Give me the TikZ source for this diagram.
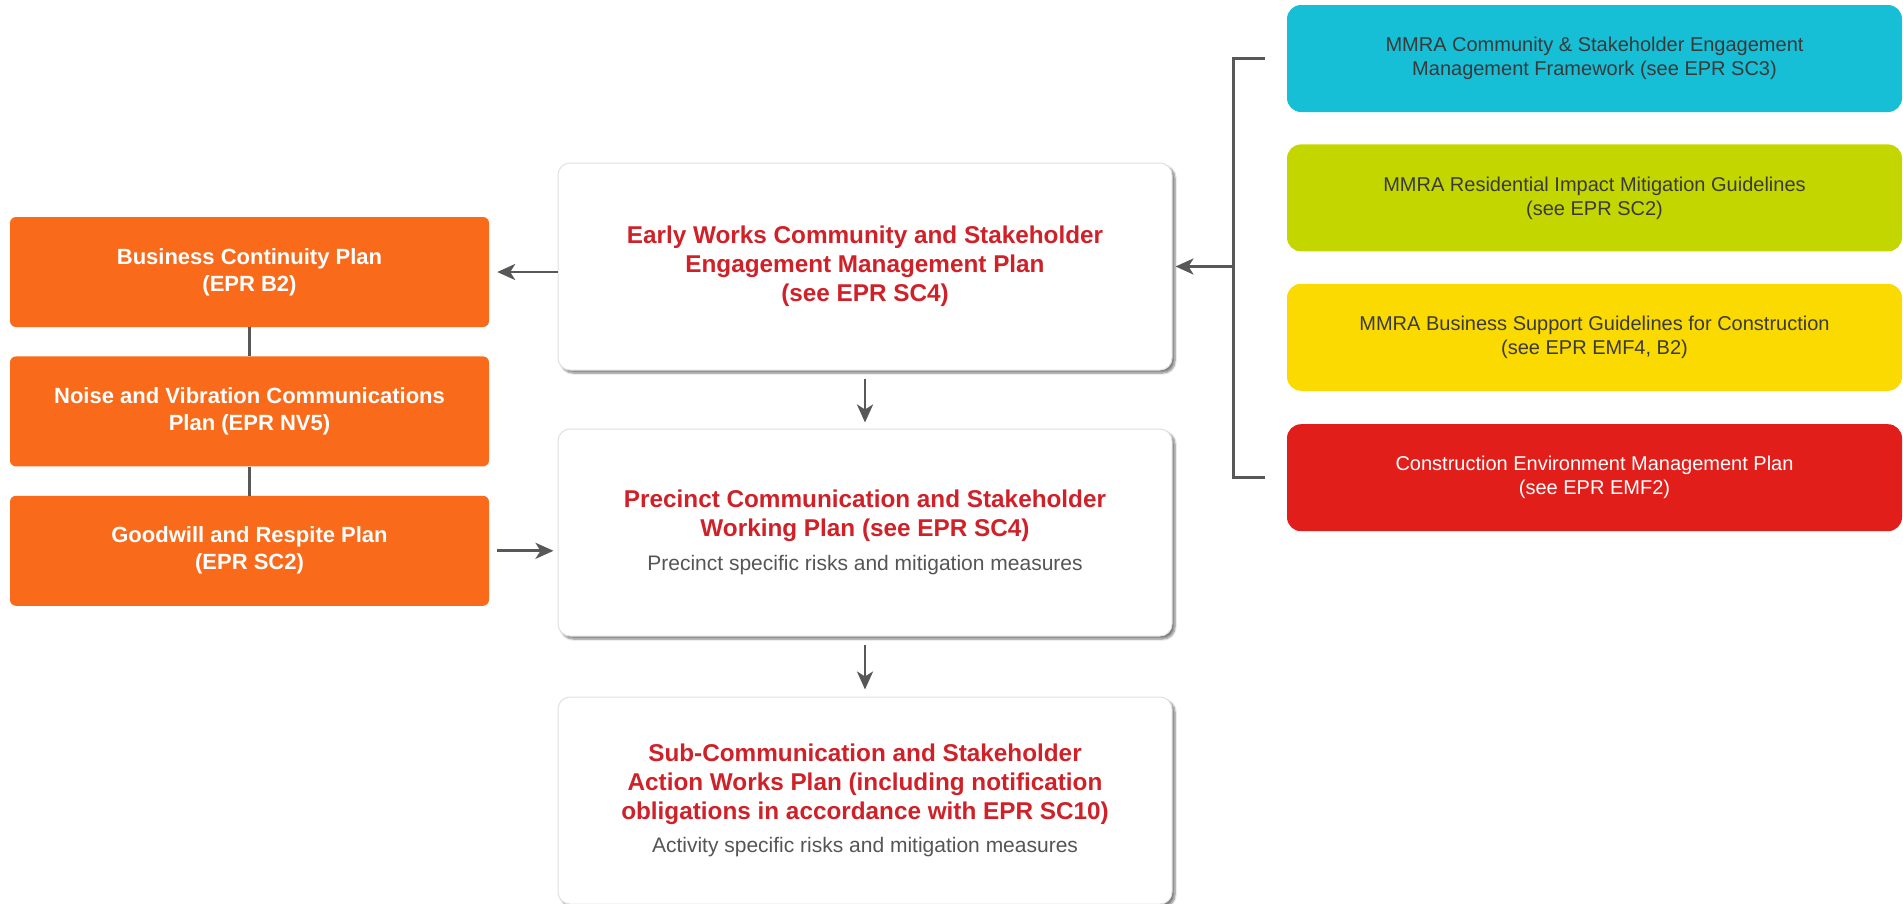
\documentclass[tikz,border=0pt]{standalone}
\usepackage{fontspec}
\setmainfont{Liberation Sans}
\usetikzlibrary{positioning,arrows.meta,shadows.blur}

\definecolor{planorange}{RGB}{249,106,27}
\definecolor{headred}{RGB}{208,32,40}
\definecolor{notegray}{RGB}{85,85,85}
\definecolor{linegray}{RGB}{88,88,88}
\definecolor{guidetext}{RGB}{58,58,58}
\definecolor{guideblue}{RGB}{22,190,214}
\definecolor{guidegreen}{RGB}{196,214,0}
\definecolor{guideyellow}{RGB}{250,218,0}
\definecolor{guidered}{RGB}{225,30,26}

\newcommand{\stagenote}[1]{{\mdseries\fontsize{21}{29}\selectfont\color{notegray}#1}}

\tikzset{
  plan/.style = {rectangle, rounded corners=6pt, fill=planorange, text=white,
    minimum width=479pt, minimum height=110pt, align=center,
    font=\bfseries\fontsize{22}{27}\selectfont},
  stage/.style = {rectangle, rounded corners=12pt, fill=white, draw=black!12,
    line width=1pt, minimum width=614pt, minimum height=207pt, align=center,
    text=headred, font=\bfseries\fontsize{24.3}{29}\selectfont,
    blur shadow={shadow xshift=3pt, shadow yshift=-3pt, shadow blur steps=6, shadow opacity=50}},
  guide/.style = {rectangle, rounded corners=14pt, minimum width=615pt,
    minimum height=107pt, align=center, text=guidetext,
    font=\fontsize{20}{24}\selectfont},
  link/.style = {draw=linegray, line width=2.8pt},
  arr/.style = {link, -{Stealth[length=18pt,width=16pt,inset=5pt]}},
}

\begin{document}
\begin{tikzpicture}[x=1pt,y=-1pt]
    \useasboundingbox (0,0) rectangle (1903,903);
    % left plans
    \node[plan] (biz) at (249.5,272) {Business Continuity Plan\\(EPR B2)};
    \node[plan, below=29pt of biz] (noise) {Noise and Vibration Communications\\Plan (EPR NV5)};
    \node[plan, below=29pt of noise] (good) {Goodwill and Respite Plan\\(EPR SC2)};
    \draw[link] (biz) -- (noise);
    \draw[link] (noise) -- (good);

    % middle plans
    \node[stage] (early) at (865,266.5) {Early Works Community and Stakeholder\\Engagement Management Plan\\(see EPR SC4)};
    \node[stage, below=58pt of early] (prec) {Precinct Communication and Stakeholder\\Working Plan (see EPR SC4)\\[5pt]\stagenote{Precinct specific risks and mitigation measures}};
    \node[stage, below=60pt of prec] (subplan) {Sub-Communication and Stakeholder\\Action Works Plan (including notification\\obligations in accordance with EPR SC10)\\[4pt]\stagenote{Activity specific risks and mitigation measures}};
    \draw[arr, shorten <=8pt, shorten >=6pt] (early) -- (prec);
    \draw[arr, shorten <=8pt, shorten >=7pt] (prec) -- (subplan);

    % guidelines
    \node[guide, fill=guideblue] (blue) at (1594.5,58.5) {MMRA Community \& Stakeholder Engagement\\Management Framework (see EPR SC3)};
    \node[guide, fill=guidegreen, below=32pt of blue] (green) {MMRA Residential Impact Mitigation Guidelines\\(see EPR SC2)};
    \node[guide, fill=guideyellow, below=32pt of green] (yellow) {MMRA Business Support Guidelines for Construction\\(see EPR EMF4, B2)};
    \node[guide, fill=guidered, text=white, below=33pt of yellow] (red) {Construction Environment Management Plan\\(see EPR EMF2)};

    \coordinate (brk) at ([xshift=61pt]early.east);
    \draw[link] ([xshift=-22pt]blue.west) -| (brk) |- ([xshift=-22pt]red.west);

    % arrows
    \draw[arr, shorten >=3pt] (brk) -- (early.east);
    \draw[arr, shorten >=8pt] (early.west |- biz) -- (biz.east);
    \draw[arr, shorten <=8pt, shorten >=4pt] (good.east) -- (good.east -| prec.west);
\end{tikzpicture}
\end{document}
